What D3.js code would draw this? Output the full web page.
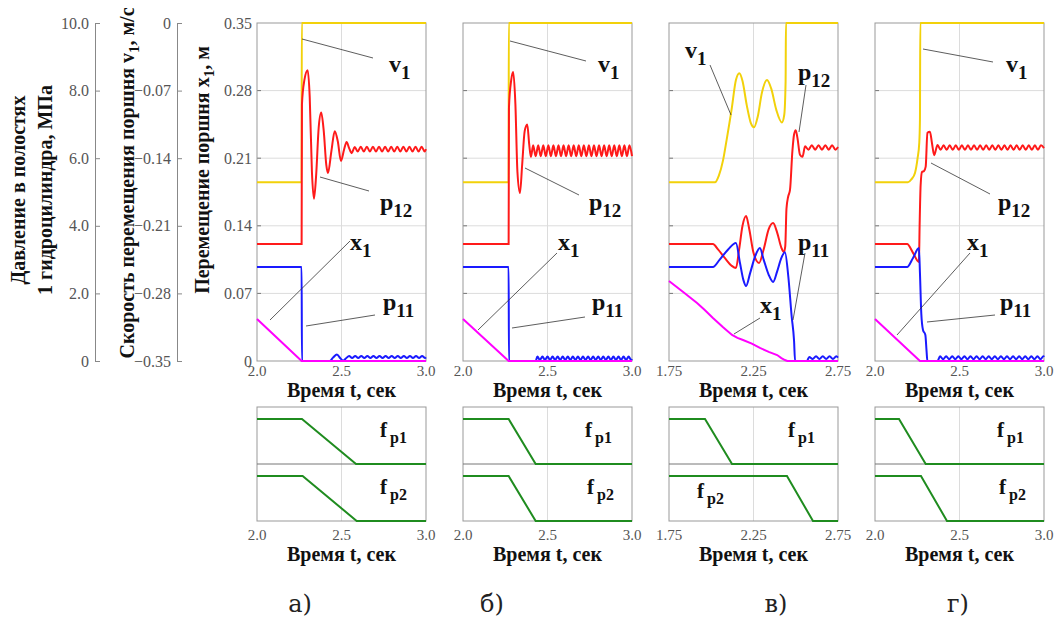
<!DOCTYPE html>
<html>
<head>
<meta charset="utf-8">
<script src="https://cdn.jsdelivr.net/npm/d3@7"></script>
<style>
body { margin: 0; background: #fff; }
</style>
</head>
<body>
<div id="chart"></div>
<script>
var width = 1055,
  height = 619;

// time windows of the four cases
var tDomains = [[2.0, 3.0], [2.0, 3.0], [1.75, 2.75], [2.0, 3.0]];
var tTicks = [[2.0, 2.5, 3.0], [2.0, 2.5, 3.0], [1.75, 2.25, 2.75], [2.0, 2.5, 3.0]];
var tTickFmt = [".1f", ".1f", ".2f", ".1f"];
var captions = ["а)", "б)", "в)", "г)"];

// left axes
var pTicks = [0, 2, 4, 6, 8, 10];
var vTicks = [-0.35, -0.28, -0.21, -0.14, -0.07, 0];
var xTicks = [0, 0.07, 0.14, 0.21, 0.28, 0.35];

// case а)
var v1_a = [[2.0, -0.165], [2.264, -0.165], [2.265, 0], [3.0, 0]];
var x1_a = [[2.0, 0.0435], [2.264, 0], [3.0, 0]];
var p12_a = [[2.0, 3.46], [2.264, 3.46], [2.266, 7.6], [2.28, 8.3], [2.30, 8.6], [2.312, 7.8], [2.325, 5.6], [2.337, 4.8],
  [2.35, 5.5], [2.365, 6.9], [2.38, 7.35], [2.395, 6.8], [2.41, 5.8], [2.42, 5.56], [2.44, 6.2], [2.46, 6.8], [2.478, 6.5],
  [2.497, 5.92], [2.515, 6.25], [2.53, 6.48], [2.545, 6.3], [2.56, 6.15], [2.578, 6.33], [2.596, 6.2], [2.614, 6.34],
  [2.632, 6.2], [2.65, 6.34], [2.668, 6.2], [2.686, 6.34], [2.704, 6.2], [2.722, 6.34], [2.74, 6.2], [2.758, 6.34],
  [2.776, 6.2], [2.794, 6.34], [2.812, 6.2], [2.83, 6.34], [2.848, 6.2], [2.866, 6.34], [2.884, 6.2], [2.902, 6.34],
  [2.92, 6.2], [2.938, 6.34], [2.956, 6.2], [2.974, 6.34], [2.992, 6.2], [3.0, 6.27]];
var p11_a = [[2.0, 2.78], [2.264, 2.78], [2.266, 0], [2.43, 0], [2.45, 0.1], [2.473, 0.19], [2.495, 0.07], [2.51, 0.01],
  [2.527, 0.08], [2.545, 0.15], [2.563, 0.09], [2.581, 0.15], [2.599, 0.09], [2.617, 0.15], [2.635, 0.09], [2.653, 0.15],
  [2.671, 0.09], [2.689, 0.15], [2.707, 0.09], [2.725, 0.15], [2.743, 0.09], [2.761, 0.15], [2.779, 0.09], [2.797, 0.15],
  [2.815, 0.09], [2.833, 0.15], [2.851, 0.09], [2.869, 0.15], [2.887, 0.09], [2.905, 0.15], [2.923, 0.09], [2.941, 0.15],
  [2.959, 0.09], [2.977, 0.15], [2.995, 0.09], [3.0, 0.11]];
var fp1_a = [[2.0, 1], [2.266, 1], [2.586, 0], [3.0, 0]];
var fp2_a = [[2.0, 1], [2.27, 1], [2.59, 0], [3.0, 0]];

// case б)
var v1_b = [[2.0, -0.165], [2.27, -0.165], [2.271, 0], [3.0, 0]];
var x1_b = [[2.0, 0.0435], [2.27, 0], [3.0, 0]];
var p12_b = [[2.0, 3.46], [2.27, 3.46], [2.272, 7.5], [2.285, 8.3], [2.297, 8.55], [2.31, 7.6], [2.322, 5.6], [2.337, 4.97],
  [2.35, 5.8], [2.365, 6.8], [2.38, 7.0], [2.392, 6.4], [2.402, 6.04], [2.415, 6.38], [2.43, 6.06], [2.445, 6.38],
  [2.46, 6.06], [2.475, 6.38], [2.49, 6.06], [2.505, 6.38], [2.52, 6.06], [2.535, 6.38], [2.55, 6.06], [2.565, 6.38],
  [2.58, 6.06], [2.595, 6.38], [2.61, 6.06], [2.625, 6.38], [2.64, 6.06], [2.655, 6.38], [2.67, 6.06], [2.685, 6.38],
  [2.7, 6.06], [2.715, 6.38], [2.73, 6.06], [2.745, 6.38], [2.76, 6.06], [2.775, 6.38], [2.79, 6.06], [2.805, 6.38],
  [2.82, 6.06], [2.835, 6.38], [2.85, 6.06], [2.865, 6.38], [2.88, 6.06], [2.895, 6.38], [2.91, 6.06], [2.925, 6.38],
  [2.94, 6.06], [2.955, 6.38], [2.97, 6.06], [2.985, 6.38], [3.0, 6.06]];
var p11_b = [[2.0, 2.78], [2.27, 2.78], [2.272, 0], [2.43, 0], [2.44, 0.13], [2.455, 0.03], [2.47, 0.13], [2.485, 0.03],
  [2.5, 0.13], [2.515, 0.03], [2.53, 0.13], [2.545, 0.03], [2.56, 0.13], [2.575, 0.03], [2.59, 0.13], [2.605, 0.03],
  [2.62, 0.13], [2.635, 0.03], [2.65, 0.13], [2.665, 0.03], [2.68, 0.13], [2.695, 0.03], [2.71, 0.13], [2.725, 0.03],
  [2.74, 0.13], [2.755, 0.03], [2.77, 0.13], [2.785, 0.03], [2.8, 0.13], [2.815, 0.03], [2.83, 0.13], [2.845, 0.03],
  [2.86, 0.13], [2.875, 0.03], [2.89, 0.13], [2.905, 0.03], [2.92, 0.13], [2.935, 0.03], [2.95, 0.13], [2.965, 0.03],
  [2.98, 0.13], [2.995, 0.03], [3.0, 0.06]];
var fp1_b = [[2.0, 1], [2.27, 1], [2.43, 0], [3.0, 0]];
var fp2_b = [[2.0, 1], [2.27, 1], [2.43, 0], [3.0, 0]];

// case в)
var v1_c = [[1.75, -0.165], [2.022, -0.165], [2.045, -0.158], [2.07, -0.142], [2.091, -0.121], [2.12, -0.09],
  [2.146, -0.059], [2.166, -0.052], [2.185, -0.06], [2.21, -0.085], [2.235, -0.104], [2.253, -0.108], [2.275, -0.097],
  [2.3, -0.072], [2.33, -0.059], [2.355, -0.068], [2.385, -0.09], [2.418, -0.103], [2.432, -0.095], [2.44, -0.06],
  [2.442, 0], [2.75, 0]];
var x1_c = [[1.75, 0.0828], [1.83, 0.072], [1.916, 0.060], [1.96, 0.053], [2.01, 0.0445], [2.07, 0.035], [2.123, 0.027],
  [2.155, 0.024], [2.188, 0.0217], [2.24, 0.018], [2.288, 0.0135], [2.34, 0.0095], [2.39, 0.0062], [2.415, 0.003],
  [2.436, 0.001], [2.45, 0], [2.75, 0]];
var p12_c = [[1.75, 3.46], [2.01, 3.46], [2.04, 3.3], [2.08, 3.05], [2.12, 2.82], [2.146, 2.75], [2.165, 3.3],
  [2.185, 4.0], [2.206, 4.29], [2.225, 3.9], [2.25, 3.2], [2.283, 2.9], [2.31, 3.3], [2.34, 3.9], [2.366, 4.08],
  [2.39, 3.8], [2.415, 3.35], [2.43, 3.22], [2.438, 3.4], [2.445, 4.5], [2.455, 4.86], [2.466, 5.06], [2.48, 6.2],
  [2.49, 6.7], [2.5, 6.83], [2.51, 6.6], [2.525, 6.1], [2.54, 6.04], [2.555, 6.35], [2.575, 6.25], [2.595, 6.38],
  [2.615, 6.25], [2.635, 6.38], [2.655, 6.25], [2.675, 6.38], [2.695, 6.25], [2.715, 6.38], [2.735, 6.25], [2.75, 6.33]];
var p11_c = [[1.75, 2.78], [2.01, 2.78], [2.05, 3.0], [2.1, 3.3], [2.146, 3.49], [2.17, 2.9], [2.19, 2.4], [2.206, 2.22],
  [2.23, 2.6], [2.26, 3.1], [2.288, 3.34], [2.31, 3.0], [2.34, 2.55], [2.366, 2.34], [2.39, 2.65], [2.415, 3.05],
  [2.436, 3.22], [2.456, 2.5], [2.476, 1.31], [2.49, 0.6], [2.496, 0], [2.566, 0], [2.58, 0.12], [2.6, 0.06],
  [2.62, 0.14], [2.64, 0.06], [2.66, 0.14], [2.68, 0.06], [2.7, 0.14], [2.72, 0.06], [2.74, 0.14], [2.75, 0.1]];
var fp1_c = [[1.75, 1], [1.963, 1], [2.123, 0], [2.75, 0]];
var fp2_c = [[1.75, 1], [2.448, 1], [2.602, 0], [2.75, 0]];

// case г)
var v1_d = [[2.0, -0.165], [2.195, -0.165], [2.215, -0.162], [2.237, -0.155], [2.252, -0.14], [2.262, -0.124],
  [2.266, -0.1], [2.268, 0], [3.0, 0]];
var x1_d = [[2.0, 0.0435], [2.266, 0], [3.0, 0]];
var p12_d = [[2.0, 3.46], [2.19, 3.46], [2.225, 3.2], [2.26, 2.93], [2.264, 4.0], [2.27, 5.2], [2.278, 5.59],
  [2.29, 5.62], [2.3, 5.75], [2.31, 6.75], [2.325, 6.78], [2.337, 6.45], [2.35, 6.09], [2.37, 6.39], [2.388, 6.25],
  [2.406, 6.38], [2.424, 6.25], [2.442, 6.38], [2.46, 6.25], [2.478, 6.38], [2.496, 6.25], [2.514, 6.38], [2.532, 6.25],
  [2.55, 6.38], [2.568, 6.25], [2.586, 6.38], [2.604, 6.25], [2.622, 6.38], [2.64, 6.25], [2.658, 6.38], [2.676, 6.25],
  [2.694, 6.38], [2.712, 6.25], [2.73, 6.38], [2.748, 6.25], [2.766, 6.38], [2.784, 6.25], [2.802, 6.38], [2.82, 6.25],
  [2.838, 6.38], [2.856, 6.25], [2.874, 6.38], [2.892, 6.25], [2.91, 6.38], [2.928, 6.25], [2.946, 6.38], [2.964, 6.25],
  [2.982, 6.38], [3.0, 6.3]];
var p11_d = [[2.0, 2.78], [2.19, 2.78], [2.225, 3.05], [2.26, 3.34], [2.266, 2.6], [2.274, 1.4], [2.284, 0.92],
  [2.298, 0.77], [2.305, 0.3], [2.31, 0], [2.37, 0], [2.385, 0.14], [2.403, 0.05], [2.421, 0.14], [2.439, 0.05],
  [2.457, 0.14], [2.475, 0.05], [2.493, 0.14], [2.511, 0.05], [2.529, 0.14], [2.547, 0.05], [2.565, 0.14], [2.583, 0.05],
  [2.601, 0.14], [2.619, 0.05], [2.637, 0.14], [2.655, 0.05], [2.673, 0.14], [2.691, 0.05], [2.709, 0.14], [2.727, 0.05],
  [2.745, 0.14], [2.763, 0.05], [2.781, 0.14], [2.799, 0.05], [2.817, 0.14], [2.835, 0.05], [2.853, 0.14], [2.871, 0.05],
  [2.889, 0.14], [2.907, 0.05], [2.925, 0.14], [2.943, 0.05], [2.961, 0.14], [2.979, 0.05], [2.997, 0.14], [3.0, 0.12]];
var fp1_d = [[2.0, 1], [2.142, 1], [2.30, 0], [3.0, 0]];
var fp2_d = [[2.0, 1], [2.272, 1], [2.426, 0], [3.0, 0]];

var cases = [
  { v1: v1_a, p12: p12_a, p11: p11_a, x1: x1_a, fp1: fp1_a, fp2: fp2_a },
  { v1: v1_b, p12: p12_b, p11: p11_b, x1: x1_b, fp1: fp1_b, fp2: fp2_b },
  { v1: v1_c, p12: p12_c, p11: p11_c, x1: x1_c, fp1: fp1_c, fp2: fp2_c },
  { v1: v1_d, p12: p12_d, p11: p11_d, x1: x1_d, fp1: fp1_d, fp2: fp2_d }
];

// layout
var lefts = [257, 463, 669, 875],
  pw = 169,
  plotTop = 23,
  plotBottom = 361,
  fTop = 407,
  fMid = 464,
  fBot = 521;

var serif = '"Liberation Serif", "Times New Roman", Tinos, "DejaVu Serif", serif';
var colors = { v1: "#f2d10a", p12: "#ff1a1a", p11: "#1a1aff", x1: "#ff00ff", f: "#1f8c1f" };

// leader lines and labels: [name, sub, x1, y1, x2, y2, labelX, labelY] (x relative to panel left)
var notes = [
  [["v", "1", 45, 39, 116, 58, 132, 72], ["p", "12", 63, 177, 112, 191, 123, 210], ["x", "1", 13, 320, 93, 241, 93, 250], ["p", "11", 49, 326, 118, 315, 126, 310]],
  [["v", "1", 47, 41, 123, 61, 135, 72], ["p", "12", 62, 168, 116, 195, 126, 210], ["x", "1", 15, 330, 94, 253, 95, 250], ["p", "11", 49, 328, 122, 317, 129, 310]],
  [["v", "1", 62, 115, 41, 65, 16, 58], ["p", "12", 130, 132, 137, 85, 129, 80], ["p", "11", 124, 320, 136, 253, 129, 250], ["x", "1", 65, 334, 91, 318, 91, 313]],
  [["v", "1", 48, 49, 118, 62, 131, 72], ["p", "12", 56, 163, 115, 194, 123, 210], ["x", "1", 22, 335, 95, 253, 92, 250], ["p", "11", 52, 322, 120, 315, 125, 310]]
];
var fLabels = [[[123, 437], [123, 494]], [[122, 437], [124, 494]], [[119, 437], [28, 498]], [[122, 437], [124, 494]]];
var capX = [300, 492, 776, 958];

var svg = d3.select("#chart").append("svg")
  .attr("width", width)
  .attr("height", height)
  .style("font-family", serif);

var yP = d3.scaleLinear().domain([0, 10]).range([plotBottom, plotTop]);
var yV = d3.scaleLinear().domain([-0.35, 0]).range([plotBottom, plotTop]);
var yX = d3.scaleLinear().domain([0, 0.35]).range([plotBottom, plotTop]);

var tickColor = "#555";

// pressure axis
var gP = svg.append("g").attr("transform", "translate(95,0)");
gP.call(d3.axisRight(yP).tickValues(pTicks).tickSize(5).tickFormat(function (d) { return d === 0 ? "0" : d3.format(".1f")(d); }));
// velocity axis
var gV = svg.append("g").attr("transform", "translate(177,0)");
gV.call(d3.axisRight(yV).tickValues(vTicks).tickSize(5).tickFormat(function (d) { return d === 0 ? "0" : d3.format(".2f")(d); }));

[gP, gV].forEach(function (g) {
  g.attr("font-family", null);
  g.select(".domain").attr("stroke", "#888");
  g.selectAll(".tick line").attr("stroke", "#888");
  g.selectAll(".tick text")
    .attr("x", -6).attr("text-anchor", "end")
    .attr("fill", tickColor)
    .style("font-size", "16px")
    .style("font-family", serif);
});

// y titles
function vtitle(x, y, parts) {
  var t = svg.append("text")
    .attr("transform", "translate(" + x + "," + y + ")rotate(-90)")
    .attr("text-anchor", "middle")
    .style("font-size", "20px")
    .style("font-weight", "bold")
    .attr("fill", "#111");
  parts.forEach(function (p) {
    if (p.sub) {
      t.append("tspan").attr("dy", 5).style("font-size", "15px").text(p.text);
    } else {
      t.append("tspan").attr("dy", p.back ? -5 : 0).text(p.text);
    }
  });
}
vtitle(25, 190, [{ text: "Давление в полостях" }]);
vtitle(52, 190, [{ text: "1 гидроцилиндра, МПа" }]);
vtitle(134, 183, [{ text: "Скорость перемещения поршня v" }, { text: "1", sub: true }, { text: ", м/с", back: true }]);
vtitle(209, 170, [{ text: "Перемещение поршня x" }, { text: "1", sub: true }, { text: ", м", back: true }]);

cases.forEach(function (c, i) {
  var x0 = lefts[i];
  var x = d3.scaleLinear().domain(tDomains[i]).range([x0, x0 + pw]);
  var g = svg.append("g");

  // grid
  g.selectAll(".hgrid").data(xTicks.slice(1, -1)).enter().append("line")
    .attr("x1", x0).attr("x2", x0 + pw)
    .attr("y1", function (d) { return yX(d); }).attr("y2", function (d) { return yX(d); })
    .attr("stroke", "#dcdcdc");
  g.selectAll(".htick").data(xTicks.slice(1, -1)).enter().append("line")
    .attr("x1", x0).attr("x2", x0 + 4)
    .attr("y1", function (d) { return yX(d); }).attr("y2", function (d) { return yX(d); })
    .attr("stroke", "#777");
  g.append("line")
    .attr("x1", x(tTicks[i][1])).attr("x2", x(tTicks[i][1]))
    .attr("y1", plotTop).attr("y2", plotBottom)
    .attr("stroke", "#dcdcdc");
  g.append("rect")
    .attr("x", x0).attr("y", plotTop).attr("width", pw).attr("height", plotBottom - plotTop)
    .attr("fill", "none").attr("stroke", "#999");

  if (i === 0) {
    g.selectAll(".xlab").data(xTicks).enter().append("text")
      .attr("x", x0 - 5).attr("y", function (d) { return yX(d); })
      .attr("dy", "0.35em").attr("text-anchor", "end")
      .attr("fill", tickColor).style("font-size", "16px")
      .text(function (d) { return d === 0 ? "0" : d3.format(".2f")(d); });
  }

  // x1 is drawn straight, the others smoothed
  var lines = [["v1", yV, d3.curveMonotoneX], ["p12", yP, d3.curveMonotoneX], ["p11", yP, d3.curveMonotoneX], ["x1", yX, d3.curveLinear]];
  lines.forEach(function (l) {
    var line = d3.line().x(function (d) { return x(d[0]); }).y(function (d) { return l[1](d[1]); }).curve(l[2]);
    g.append("path").datum(c[l[0]])
      .attr("d", line)
      .attr("fill", "none")
      .attr("stroke", colors[l[0]])
      .attr("stroke-width", 2);
  });

  // time ticks
  g.selectAll(".tlab").data(tTicks[i]).enter().append("text")
    .attr("x", function (d) { return x(d); }).attr("y", 376)
    .attr("text-anchor", "middle").attr("fill", tickColor).style("font-size", "15px")
    .text(function (d) { return d3.format(tTickFmt[i])(d); });
  g.append("text").attr("x", x0 + pw / 2).attr("y", 397)
    .attr("text-anchor", "middle").style("font-size", "20px").style("font-weight", "bold").attr("fill", "#111")
    .text("Время t, сек");

  // annotations
  notes[i].forEach(function (n) {
    g.append("line")
      .attr("x1", x0 + n[2]).attr("y1", n[3]).attr("x2", x0 + n[4]).attr("y2", n[5])
      .attr("stroke", "#333").attr("stroke-width", 0.8);
    var t = g.append("text").attr("x", x0 + n[6]).attr("y", n[7])
      .style("font-weight", "bold").style("font-size", "24px").attr("fill", "#111");
    t.append("tspan").text(n[0]);
    t.append("tspan").attr("dy", 7).style("font-size", "19px").text(n[1]);
  });

  // lower panel with fp1 / fp2
  var f1 = d3.scaleLinear().domain([0, 1]).range([fMid, fMid - 45]);
  var f2 = d3.scaleLinear().domain([0, 1]).range([fBot, fBot - 45]);
  g.append("line")
    .attr("x1", x(tTicks[i][1])).attr("x2", x(tTicks[i][1]))
    .attr("y1", fTop).attr("y2", fBot)
    .attr("stroke", "#dcdcdc");
  g.append("rect")
    .attr("x", x0).attr("y", fTop).attr("width", pw).attr("height", fBot - fTop)
    .attr("fill", "none").attr("stroke", "#999");
  g.append("line")
    .attr("x1", x0).attr("x2", x0 + pw).attr("y1", fMid).attr("y2", fMid)
    .attr("stroke", "#777");
  [[c.fp1, f1], [c.fp2, f2]].forEach(function (f) {
    g.append("path").datum(f[0])
      .attr("d", d3.line().x(function (d) { return x(d[0]); }).y(function (d) { return f[1](d[1]); }))
      .attr("fill", "none").attr("stroke", colors.f).attr("stroke-width", 2);
  });
  fLabels[i].forEach(function (p, k) {
    var t = g.append("text").attr("x", x0 + p[0]).attr("y", p[1])
      .style("font-weight", "bold").style("font-size", "21px").attr("fill", "#111");
    t.append("tspan").text("f");
    t.append("tspan").attr("dx", 3).attr("dy", 6).style("font-size", "16px").text("p" + (k + 1));
  });
  g.selectAll(".flab").data(tTicks[i]).enter().append("text")
    .attr("x", function (d) { return x(d); }).attr("y", 540)
    .attr("text-anchor", "middle").attr("fill", tickColor).style("font-size", "15px")
    .text(function (d) { return d3.format(tTickFmt[i])(d); });
  g.append("text").attr("x", x0 + pw / 2).attr("y", 561)
    .attr("text-anchor", "middle").style("font-size", "20px").style("font-weight", "bold").attr("fill", "#111")
    .text("Время t, сек");

  svg.append("text").attr("x", capX[i]).attr("y", 612)
    .attr("text-anchor", "middle").style("font-size", "24px").style("font-family", "DejaVu Serif").attr("fill", "#222")
    .text(captions[i]);
});
</script>
</body>
</html>
